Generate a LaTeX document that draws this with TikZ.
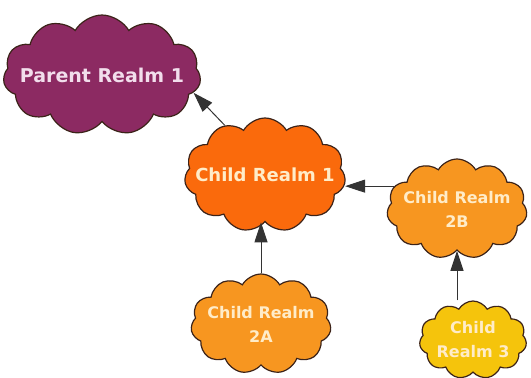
\documentclass[tikz,border=0pt]{standalone}
\usepackage{fontspec}
\setmainfont{DejaVu Sans}
\usetikzlibrary{shapes,arrows.meta}

\definecolor{plum}{RGB}{140,42,98}
\definecolor{redorange}{RGB}{250,106,12}
\definecolor{midorange}{RGB}{247,150,32}
\definecolor{gold}{RGB}{245,196,12}
\definecolor{pinktext}{RGB}{242,222,236}
\definecolor{creamtext}{RGB}{255,236,200}
\definecolor{cloudline}{RGB}{60,35,25}

\begin{document}
\begin{tikzpicture}[x=1pt, y=-1pt, >={Triangle[length=20pt,width=13pt]},
  realm/.style={cloud, cloud puffs=11, cloud puff arc=120, cloud ignores aspect,
    draw=cloudline, line width=1.2pt, inner sep=0pt, align=center},
  big/.style={font=\fontsize{18}{24}\selectfont\bfseries},
  small/.style={font=\fontsize{16}{24}\selectfont\bfseries},
  link/.style={->, line width=1pt, draw=black!80}]
\useasboundingbox (0,0) rectangle (531,378);
% clouds
\node[realm, big, fill=plum, text=pinktext, inner xsep=-10.5pt, minimum height=120pt,
  font=\fontsize{19}{24}\selectfont\bfseries] (parent1) at (102,75) {Parent Realm 1};
\node[realm, big, fill=redorange, text=creamtext, inner xsep=-11.5pt, minimum height=114pt] (child1) at (265,175) {Child Realm 1};
\node[realm, small, fill=midorange, text=creamtext, inner xsep=-5pt, minimum height=100pt] (child2b) at (457,209) {Child Realm\\2B};
\node[realm, small, fill=midorange, text=creamtext, inner xsep=-5pt, minimum height=100pt] (child2a) at (261,324) {Child Realm\\2A};
\node[realm, small, fill=gold, text=creamtext, minimum width=98pt, minimum height=78pt] (child3) at (473,340) {Child\\Realm 3};
% arrows
\draw[link] (child1.129) -- (parent1.-11);
\draw[link] (child2b.160) -- (child1.east |- child2b.160);
\draw[link] (child2a.north) -- (child2a.north |- child1.south);
\draw[link] (child2b.south |- child3.north) -- (child2b.south);
\end{tikzpicture}
\end{document}
